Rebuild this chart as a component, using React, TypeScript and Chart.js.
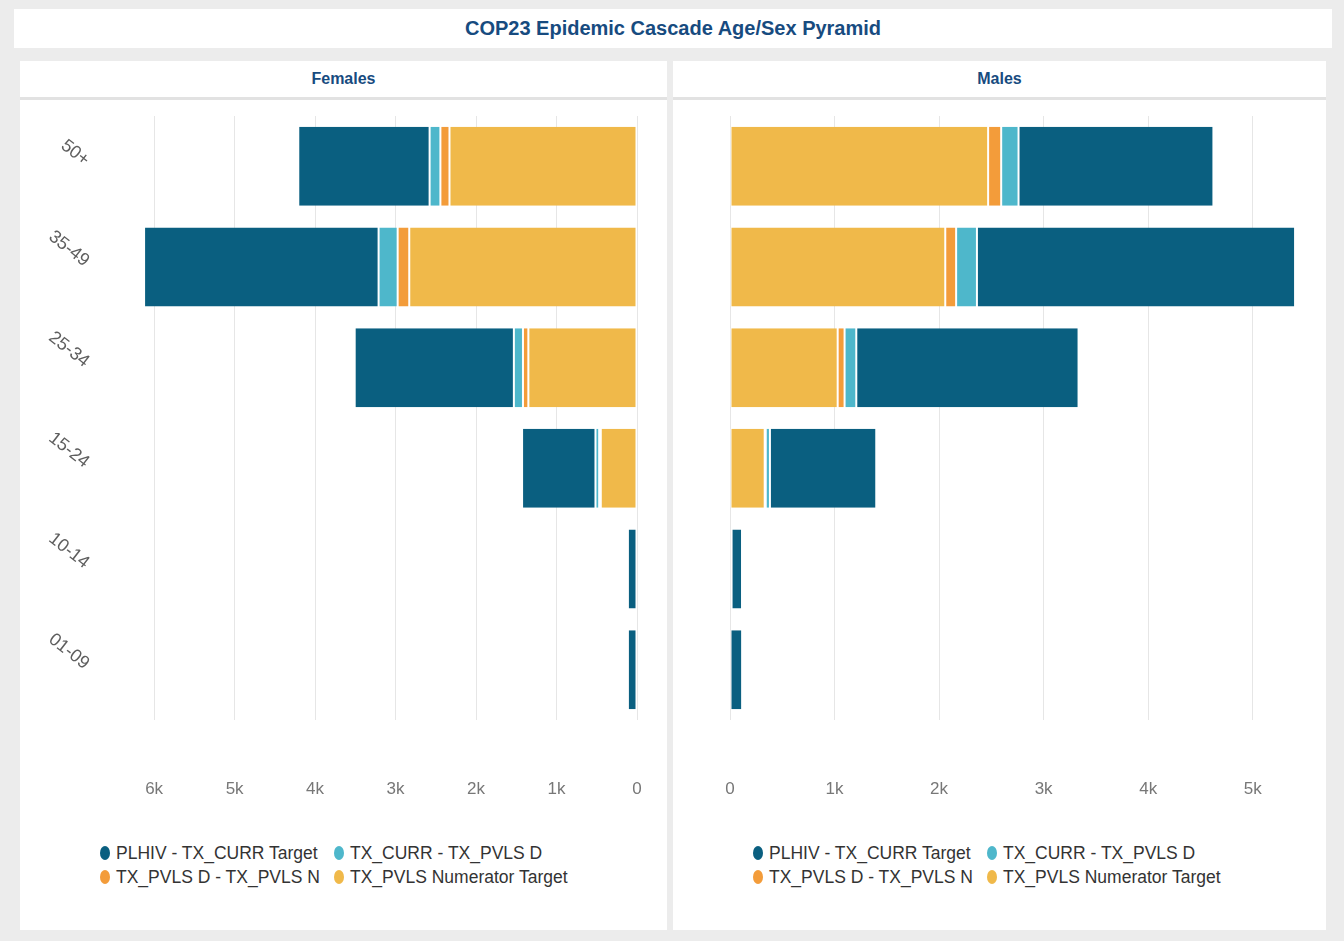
import React, { useEffect, useRef } from "react";
import { Chart, registerables } from "chart.js";

Chart.register(...registerables);

// Age bands, top to bottom
const AGE_GROUPS = ["50+", "35-49", "25-34", "15-24", "10-14", "01-09"];

// Series labels and colours (legend order)
const SERIES_LABELS = [
  "PLHIV - TX_CURR Target",
  "TX_CURR - TX_PVLS D",
  "TX_PVLS D - TX_PVLS N",
  "TX_PVLS Numerator Target",
];
const SERIES_COLORS = ["#0a5f80", "#4eb7cb", "#f39c3a", "#f0b94a"];

// Females
const F_PLHIV_GAP = [1632, 2914, 1978, 912, 113, 113];
const F_CURR_GAP = [134, 237, 113, 46, 0, 0];
const F_PVLS_GAP = [113, 144, 67, 20, 0, 0];
const F_PVLS_NUM = [2330, 2830, 1350, 450, 0, 0];

// Males
const M_PLHIV_GAP = [1864, 3043, 2126, 1017, 100, 116];
const M_CURR_GAP = [166, 199, 112, 40, 0, 0];
const M_PVLS_GAP = [125, 104, 66, 10, 0, 0];
const M_PVLS_NUM = [2469, 2059, 1030, 332, 15, 0];

// Axis ranges and tick values
const F_AXIS_MAX = 6300;
const M_AXIS_MAX = 5500;
const F_TICKS = [0, 1000, 2000, 3000, 4000, 5000, 6000];
const M_TICKS = [0, 1000, 2000, 3000, 4000, 5000];

const FONT = "'Liberation Sans', Arial, sans-serif";
const TITLE_BLUE = "#174b7f";

const kLabel = (v: number) => (v === 0 ? "0" : `${v / 1000}k`);

// Rotated age labels drawn beside the female bars
const ageLabelPlugin = {
  id: "ageLabels",
  afterDraw(chart: any) {
    const ys = chart.scales.y;
    const ctx = chart.ctx;
    ctx.save();
    ctx.fillStyle = "#5e5e5e";
    ctx.font = `18px ${FONT}`;
    ctx.textAlign = "right";
    ctx.textBaseline = "middle";
    AGE_GROUPS.forEach((lab, i) => {
      const y = ys.getPixelForValue(i);
      ctx.save();
      ctx.translate(67, y - 4);
      ctx.rotate((38 * Math.PI) / 180);
      ctx.fillText(lab, 0, 0);
      ctx.restore();
    });
    ctx.restore();
  },
};

type PyramidProps = {
  width: number;
  height: number;
  reverse: boolean;
  axisMax: number;
  tickValues: number[];
  padLeft: number;
  padRight: number;
  plhiv: number[];
  curr: number[];
  pvlsGap: number[];
  pvlsNum: number[];
  showAges: boolean;
};

function Pyramid(p: PyramidProps) {
  const ref = useRef<HTMLCanvasElement | null>(null);
  useEffect(() => {
    if (!ref.current) return;
    const seg = (label: string, color: string, data: number[]) => ({
      label,
      data,
      backgroundColor: color,
      borderColor: "#ffffff",
      borderWidth: { left: 1, right: 1, top: 0, bottom: 0 },
      borderSkipped: false,
      barPercentage: 0.785,
      categoryPercentage: 1,
    });
    const chart = new Chart(ref.current, {
      type: "bar",
      data: {
        labels: AGE_GROUPS,
        datasets: [
          seg(SERIES_LABELS[3], SERIES_COLORS[3], p.pvlsNum),
          seg(SERIES_LABELS[2], SERIES_COLORS[2], p.pvlsGap),
          seg(SERIES_LABELS[1], SERIES_COLORS[1], p.curr),
          seg(SERIES_LABELS[0], SERIES_COLORS[0], p.plhiv),
        ],
      },
      options: {
        indexAxis: "y",
        animation: false,
        responsive: false,
        devicePixelRatio: 1,
        layout: {
          padding: { left: p.padLeft, right: p.padRight, top: 16, bottom: 10 },
        },
        plugins: {
          legend: { display: false },
          tooltip: { enabled: false },
        },
        scales: {
          x: {
            stacked: true,
            reverse: p.reverse,
            min: 0,
            max: p.axisMax,
            afterBuildTicks: (s: any) => {
              s.ticks = p.tickValues.map((v) => ({ value: v }));
            },
            afterFit: (s: any) => {
              s.height = 90;
              s.paddingLeft = 0;
              s.paddingRight = 0;
            },
            grid: { color: "#e6e6e6", lineWidth: 1, drawTicks: false },
            border: { display: false },
            ticks: {
              autoSkip: false,
              padding: 59,
              color: "#777777",
              font: { family: FONT, size: 17 },
              callback: (v: any) => kLabel(Number(v)),
              maxRotation: 0,
            },
          },
          y: {
            stacked: true,
            display: false,
            offset: true,
            grid: { display: false },
          },
        },
      },
      plugins: p.showAges ? [ageLabelPlugin] : [],
    } as any);
    return () => chart.destroy();
  }, []);
  return <canvas ref={ref} width={p.width} height={p.height} style={{ display: "block" }} />;
}

function Legend() {
  const order = [0, 1, 2, 3];
  return (
    <div
      style={{
        position: "absolute",
        left: 80,
        top: 782,
        display: "grid",
        gridTemplateColumns: "234px auto",
        rowGap: 4,
        fontFamily: FONT,
        fontSize: 17.5,
        color: "#333333",
        whiteSpace: "nowrap",
      }}
    >
      {order.map((i) => (
        <div key={i} style={{ display: "flex", alignItems: "center", height: 20 }}>
          <span
            style={{
              display: "inline-block",
              width: 10,
              height: 14,
              borderRadius: "50%",
              background: SERIES_COLORS[i],
              marginRight: 6,
            }}
          />
          <span>{SERIES_LABELS[i]}</span>
        </div>
      ))}
    </div>
  );
}

function Panel(props: { left: number; width: number; title: string; children: React.ReactNode }) {
  return (
    <div
      style={{
        position: "absolute",
        left: props.left,
        top: 61,
        width: props.width,
        height: 869,
        background: "#ffffff",
      }}
    >
      <div
        style={{
          position: "absolute",
          left: 0,
          top: 0,
          width: "100%",
          height: 36,
          lineHeight: "36px",
          textAlign: "center",
          fontFamily: FONT,
          fontWeight: "bold",
          fontSize: 16,
          color: TITLE_BLUE,
        }}
      >
        {props.title}
      </div>
      <div style={{ position: "absolute", left: 0, top: 36, width: "100%", height: 3, background: "#e2e2e2" }} />
      <div style={{ position: "absolute", left: 0, top: 39 }}>{props.children}</div>
      <Legend />
    </div>
  );
}

export default function App() {
  return (
    <div
      style={{
        position: "fixed",
        left: 0,
        top: 0,
        width: 1344,
        height: 941,
        background: "#ececec",
        overflow: "hidden",
      }}
    >
      <div
        style={{
          position: "absolute",
          left: 14,
          top: 9,
          width: 1318,
          height: 39,
          background: "#ffffff",
          textAlign: "center",
          lineHeight: "39px",
          fontFamily: FONT,
          fontWeight: "bold",
          fontSize: 20,
          color: TITLE_BLUE,
        }}
      >
        COP23 Epidemic Cascade Age/Sex Pyramid
      </div>
      <Panel left={20} width={647} title="Females">
        <Pyramid
          width={647}
          height={720}
          reverse={true}
          axisMax={F_AXIS_MAX}
          tickValues={F_TICKS}
          padLeft={110}
          padRight={30}
          plhiv={F_PLHIV_GAP}
          curr={F_CURR_GAP}
          pvlsGap={F_PVLS_GAP}
          pvlsNum={F_PVLS_NUM}
          showAges={true}
        />
      </Panel>
      <Panel left={673} width={653} title="Males">
        <Pyramid
          width={653}
          height={720}
          reverse={false}
          axisMax={M_AXIS_MAX}
          tickValues={M_TICKS}
          padLeft={57}
          padRight={21}
          plhiv={M_PLHIV_GAP}
          curr={M_CURR_GAP}
          pvlsGap={M_PVLS_GAP}
          pvlsNum={M_PVLS_NUM}
          showAges={false}
        />
      </Panel>
    </div>
  );
}
